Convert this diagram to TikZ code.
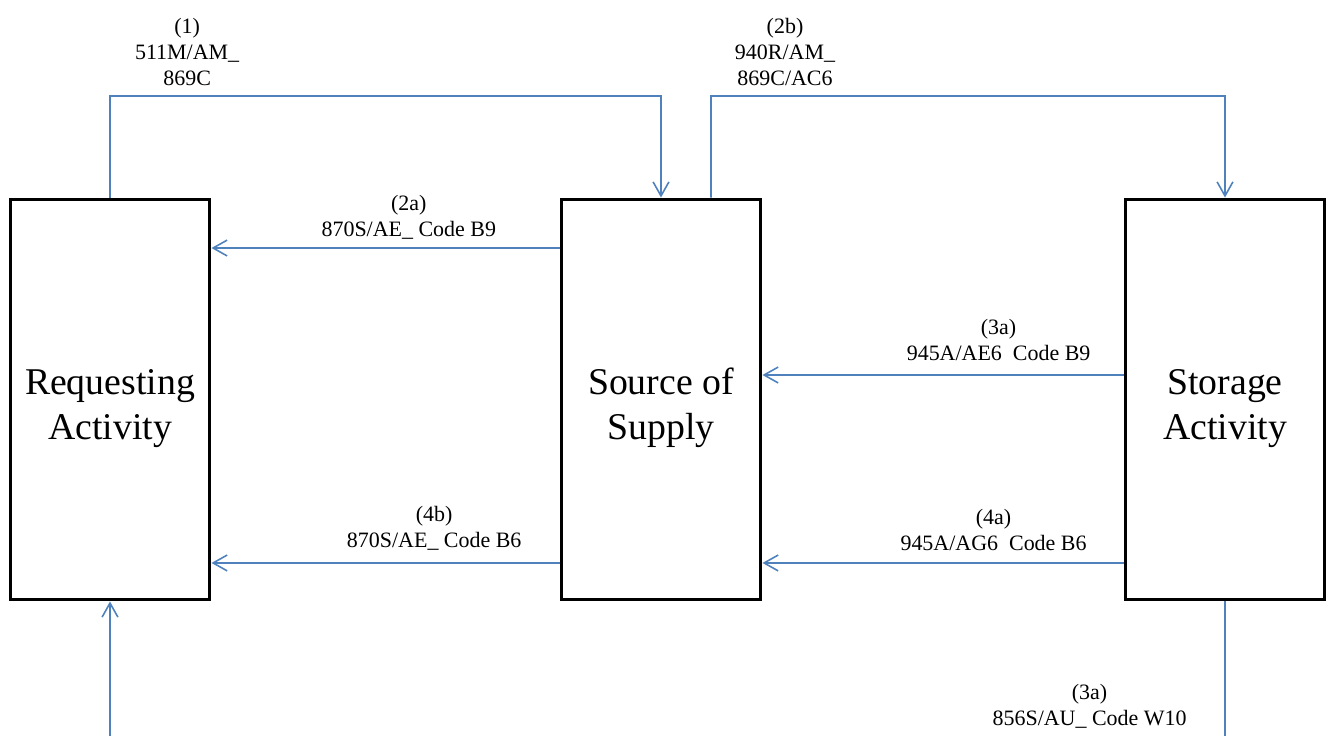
\documentclass[tikz,border=0pt]{standalone}
\usepackage{fontspec}
\setmainfont{Liberation Serif}
\usepackage{tikz}
\usetikzlibrary{arrows.meta,positioning}

\definecolor{flowblue}{HTML}{4F81BD}

\begin{document}
\begin{tikzpicture}[
    x=0.02cm, y=-0.02cm,
    every node/.style = {align=center},
    activity/.style = {draw, rectangle, line width=1.7pt, minimum width=4cm,
                       minimum height=8.02cm, inner sep=2pt,
                       font=\fontsize{21.5}{25.6}\selectfont},
    link/.style     = {draw=flowblue, line width=0.9pt},
    arr/.style      = {link, -{Straight Barb[length=8pt,width=9pt]}},
    msg/.style      = {font=\fontsize{12.5}{14.8}\selectfont, inner sep=1.5pt},
]
\useasboundingbox (0,0) rectangle (1326,736);

% ---------------- Activities ----------------
\node[activity] (req) at (110,399.5) {\strut\\[-18.8pt]Requesting\\Activity};
\node[activity] (src) at (661,399.5) {\strut\\[-18.8pt]Source of\\Supply};
\node[activity] (sto) at (1225,399.5) {\strut\\[-18.8pt]Storage\\Activity};

% ---------------- Free ends ----------------
\coordinate (top1) at (110,96);
\coordinate (top2) at (711,96);
\coordinate (bot1) at (110,738);
\coordinate (bot2) at (1225,738);

% ---------------- Requisition flow over the top ----------------
\draw[arr] (req.north) -- (top1) -| (src.north)
    node[msg, pos=0.07, above=4pt] {(1)\\511M/AM\_\\869C};

\draw[arr] ([xshift=1cm]src.north) -- (top2) -| (sto.north)
    node[msg, pos=0.072, above=4pt] {(2b)\\940R/AM\_\\869C/AC6};

% ---------------- Status replies ----------------
\draw[arr] ([yshift=3.03cm]src.west) -- ([yshift=3.03cm]req.east)
    node[msg, pos=0.433, above=3pt] {(2a)\\870S/AE\_ Code B9};

\draw[arr] ([yshift=0.49cm]sto.west) -- ([yshift=0.49cm]src.east)
    node[msg, pos=0.346, above=6pt] {(3a)\\945A/AE6\ \ Code B9};

\draw[arr] ([yshift=-3.27cm]src.west) -- ([yshift=-3.27cm]req.east)
    node[msg, pos=0.36, above=5pt] {(4b)\\870S/AE\_ Code B6};

\draw[arr] ([yshift=-3.27cm]sto.west) -- ([yshift=-3.27cm]src.east)
    node[msg, pos=0.36, above=5pt] {(4a)\\945A/AG6\ \ Code B6};

% ---------------- Off the bottom ----------------
\draw[link] (sto.south) -- (bot2)
    node[msg, pos=0.77, left=0.7cm] {(3a)\\856S/AU\_ Code W10};

\draw[arr] (bot1) -- (req.south);

\end{tikzpicture}
\end{document}
